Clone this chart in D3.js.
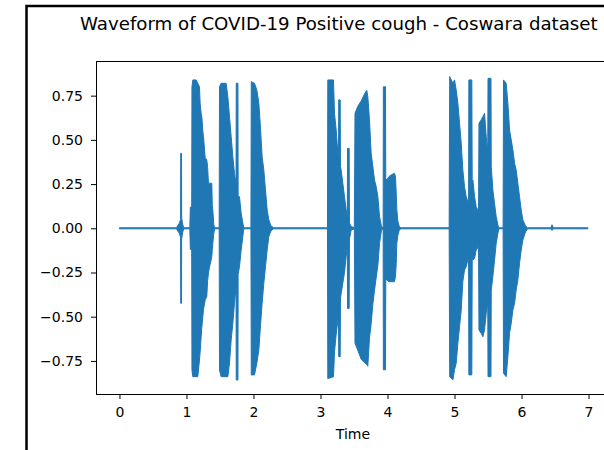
<!DOCTYPE html>
<html lang="en">
<head>
    <meta charset="UTF-8">
    <script src="https://cdn.jsdelivr.net/npm/d3@7"></script>
    <title>Waveform</title>
    <style>
        body { margin: 0; background: #fff; }
        svg text { font-family: "DejaVu Sans", sans-serif; fill: #000; }
    </style>
</head>
<body>
    <svg></svg>
    <script>
        // envelope of the waveform (seconds, amplitude)
        const times = [0.00, 0.85, 0.895, 0.912, 0.914, 0.926, 0.928, 0.945, 0.96, 1.05,
            1.058, 1.078, 1.082, 1.095, 1.144, 1.169, 1.194, 1.204, 1.219, 1.229,
            1.244, 1.254, 1.279, 1.303, 1.315, 1.328, 1.343, 1.368, 1.378, 1.385,
            1.393, 1.408, 1.42, 1.488, 1.493, 1.517, 1.592, 1.617, 1.642, 1.667,
            1.692, 1.716, 1.740, 1.743, 1.768, 1.771, 1.791, 1.816, 1.841, 1.855,
            1.962, 1.967, 2.015, 2.050, 2.080, 2.100, 2.129, 2.154, 2.179, 2.204,
            2.229, 2.26, 2.30, 3.104, 3.109, 3.194, 3.209, 3.234, 3.259, 3.269,
            3.272, 3.294, 3.298, 3.308, 3.333, 3.358, 3.383, 3.400, 3.404, 3.428,
            3.432, 3.458, 3.505, 3.515, 3.557, 3.607, 3.657, 3.690, 3.706, 3.731,
            3.756, 3.781, 3.806, 3.831, 3.856, 3.881, 3.91, 3.935, 3.938, 3.970,
            3.974, 3.990, 4.020, 4.055, 4.104, 4.119, 4.130, 4.139, 4.155, 4.175,
            4.20, 4.920, 4.928, 4.975, 5.000, 5.025, 5.050, 5.075, 5.100, 5.124,
            5.149, 5.174, 5.199, 5.210, 5.214, 5.258, 5.264, 5.274, 5.299, 5.323,
            5.348, 5.358, 5.365, 5.398, 5.423, 5.448, 5.473, 5.496, 5.500, 5.544,
            5.548, 5.572, 5.597, 5.622, 5.647, 5.66, 5.725, 5.731, 5.771, 5.796,
            5.821, 5.846, 5.871, 5.896, 5.920, 5.945, 5.970, 5.995, 6.020, 6.060,
            6.09, 6.44, 6.455, 6.475, 6.99];

        const upper = [0.003, 0.003, 0.03, 0.05, 0.424, 0.424, 0.06, 0.02, 0.003, 0.003,
            0.12, 0.12, 0.80, 0.839, 0.839, 0.82, 0.80, 0.707, 0.65, 0.631,
            0.55, 0.518, 0.40, 0.386, 0.35, 0.255, 0.255, 0.255, 0.255, 0.13,
            0.104, 0.02, 0.003, 0.003, 0.80, 0.82, 0.82, 0.745, 0.631, 0.518,
            0.405, 0.311, 0.25, 0.82, 0.82, 0.18, 0.179, 0.085, 0.03, 0.003,
            0.003, 0.829, 0.82, 0.782, 0.707, 0.594, 0.405, 0.33, 0.217, 0.104,
            0.047, 0.015, 0.003, 0.003, 0.839, 0.839, 0.65, 0.556, 0.424, 0.40,
            0.726, 0.726, 0.35, 0.33, 0.255, 0.179, 0.104, 0.06, 0.452, 0.452,
            0.03, 0.01, 0.003, 0.65, 0.69, 0.72, 0.76, 0.78, 0.745, 0.613,
            0.424, 0.349, 0.273, 0.236, 0.179, 0.066, 0.01, 0.003, 0.80, 0.80,
            0.28, 0.273, 0.292, 0.302, 0.311, 0.292, 0.20, 0.104, 0.04, 0.01,
            0.003, 0.003, 0.858, 0.82, 0.839, 0.782, 0.707, 0.594, 0.481, 0.33,
            0.236, 0.179, 0.151, 0.14, 0.839, 0.839, 0.25, 0.273, 0.179, 0.122,
            0.104, 0.05, 0.594, 0.613, 0.631, 0.650, 0.518, 0.443, 0.848, 0.848,
            0.349, 0.217, 0.141, 0.066, 0.019, 0.003, 0.003, 0.839, 0.820, 0.707,
            0.556, 0.500, 0.443, 0.368, 0.330, 0.255, 0.179, 0.104, 0.047, 0.013,
            0.003, 0.003, 0.02, 0.003, 0.003];

        const lower = [-0.003, -0.003, -0.03, -0.05, -0.424, -0.424, -0.06, -0.02, -0.003, -0.003,
            -0.12, -0.12, -0.80, -0.839, -0.839, -0.839, -0.745, -0.70, -0.613, -0.56,
            -0.50, -0.46, -0.405, -0.386, -0.30, -0.254, -0.22, -0.179, -0.16, -0.12,
            -0.085, -0.03, -0.003, -0.003, -0.801, -0.839, -0.839, -0.839, -0.763, -0.631,
            -0.537, -0.424, -0.33, -0.858, -0.858, -0.26, -0.217, -0.123, -0.047, -0.003,
            -0.003, -0.829, -0.829, -0.763, -0.688, -0.575, -0.424, -0.311, -0.217, -0.123,
            -0.047, -0.015, -0.003, -0.003, -0.85, -0.839, -0.70, -0.60, -0.52, -0.50,
            -0.726, -0.726, -0.40, -0.37, -0.311, -0.25, -0.16, -0.10, -0.453, -0.453,
            -0.06, -0.01, -0.003, -0.65, -0.69, -0.74, -0.76, -0.77, -0.78, -0.62,
            -0.54, -0.43, -0.35, -0.28, -0.21, -0.085, -0.01, -0.003, -0.80, -0.80,
            -0.29, -0.292, -0.302, -0.302, -0.302, -0.273, -0.20, -0.085, -0.04, -0.01,
            -0.003, -0.003, -0.839, -0.858, -0.80, -0.763, -0.65, -0.556, -0.462, -0.30,
            -0.236, -0.217, -0.179, -0.17, -0.829, -0.829, -0.17, -0.179, -0.17, -0.123,
            -0.11, -0.05, -0.575, -0.594, -0.613, -0.575, -0.481, -0.424, -0.839, -0.839,
            -0.35, -0.273, -0.18, -0.085, -0.028, -0.003, -0.003, -0.820, -0.839, -0.726,
            -0.594, -0.537, -0.462, -0.424, -0.349, -0.292, -0.198, -0.123, -0.066, -0.02,
            -0.003, -0.003, -0.012, -0.003, -0.003];

        const xTicks = [0, 1, 2, 3, 4, 5, 6, 7];
        const yTicks = [-0.75, -0.5, -0.25, 0, 0.25, 0.5, 0.75];

        const W = 604, H = 450;
        const m = { left: 96, right: 612, top: 61, bottom: 394 };

        let svg = d3.select('svg')
            .attr('width', W)
            .attr('height', H);

        // screenshot frame
        svg.append('path')
            .attr('d', `M26.5,${H} V6 H${W}`)
            .attr('fill', 'none')
            .attr('stroke', '#000')
            .attr('stroke-width', 2.5);

        const x = d3.scaleLinear().domain([-0.35, 7.35]).range([m.left, m.right]);
        const y = d3.scaleLinear().domain([-0.937, 0.946]).range([m.bottom, m.top]);

        const data = times.map((t, i) => ({ t: t, hi: upper[i], lo: lower[i] }));

        const area = d3.area()
            .x(d => x(d.t))
            .y0(d => y(d.lo))
            .y1(d => y(d.hi));

        svg.append('path')
            .datum(data)
            .attr('d', area)
            .attr('fill', '#1f77b4')
            .attr('stroke', '#1f77b4')
            .attr('stroke-width', 1)
            .attr('stroke-linejoin', 'round');

        // axes
        const xAxis = svg.append('g')
            .attr('transform', `translate(0,${m.bottom})`)
            .call(d3.axisBottom(x).tickValues(xTicks).tickSize(5).tickPadding(8)
                .tickFormat(d3.format('d')));
        const yAxis = svg.append('g')
            .attr('transform', `translate(${m.left},0)`)
            .call(d3.axisLeft(y).tickValues(yTicks).tickSize(5).tickPadding(8)
                .tickFormat(d => d3.format('.2f')(d).replace('-', '\u2212')));

        [xAxis, yAxis].forEach(a => {
            a.select('.domain').remove();
            a.selectAll('line').attr('stroke', '#000').attr('stroke-width', 1);
            a.selectAll('text').attr('font-size', 14).attr('fill', '#000')
                .style('font-family', '"DejaVu Sans", sans-serif');
        });

        // spines
        svg.append('rect')
            .attr('x', m.left + 0.5)
            .attr('y', m.top + 0.5)
            .attr('width', m.right - m.left)
            .attr('height', m.bottom - m.top)
            .attr('fill', 'none')
            .attr('stroke', '#000')
            .attr('stroke-width', 1);

        // title sits near the right edge as in the original screenshot
        svg.append('text')
            .attr('x', 80)
            .attr('y', 30)
            .attr('font-size', 18.2)
            .text('Waveform of COVID-19 Positive cough - Coswara dataset');

        svg.append('text')
            .attr('x', (m.left + m.right) / 2 - 1)
            .attr('y', 439)
            .attr('text-anchor', 'middle')
            .attr('font-size', 14)
            .text('Time');
    </script>
</body>
</html>
